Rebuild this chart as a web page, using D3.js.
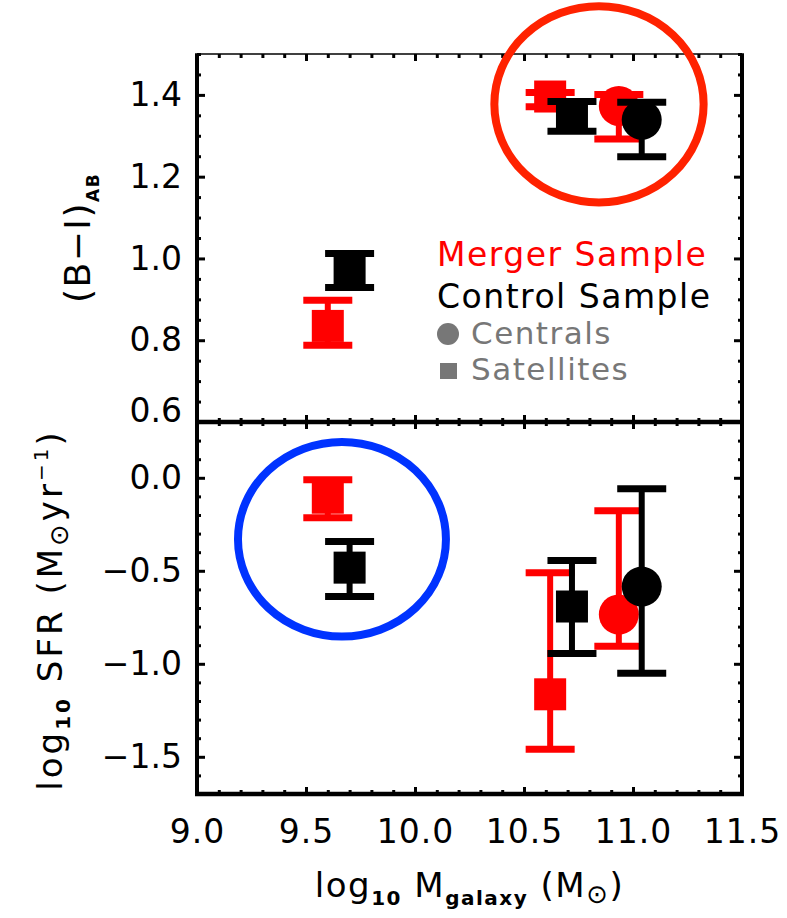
<!DOCTYPE html>
<html>
<head>
<meta charset="utf-8">
<script src="https://d3js.org/d3.v7.min.js"></script>
<style>
  body { margin: 0; background: #fff; }
  svg { display: block; font-family: "DejaVu Sans", sans-serif; }
</style>
</head>
<body>
<div id="chart"></div>
<script>
// axis ticks
const massTicks = [9.0, 9.5, 10.0, 10.5, 11.0, 11.5];
const colorTicks = [0.6, 0.8, 1.0, 1.2, 1.4];
const sfrTicks = [-1.5, -1.0, -0.5, 0.0];

// top panel: (B-I)_AB colour, m = log10 Mgalaxy, v = value, lo/hi = error bar ends
const mergerSatColor = [{ m: 9.60, v: 0.835, lo: 0.788, hi: 0.898 }, { m: 10.62, v: 1.396, lo: 1.371, hi: 1.406 }];
const controlSatColor = [{ m: 9.70, v: 0.970, lo: 0.929, hi: 1.012 }, { m: 10.72, v: 1.346, lo: 1.311, hi: 1.384 }];
const mergerCenColor = [{ m: 10.935, v: 1.373, lo: 1.292, hi: 1.401 }];
const controlCenColor = [{ m: 11.04, v: 1.339, lo: 1.249, hi: 1.382 }];

// bottom panel: log10 SFR
const mergerSatSfr = [{ m: 9.60, v: -0.107, lo: -0.215, hi: -0.011 }, { m: 10.62, v: -1.164, lo: -1.459, hi: -0.51 }];
const controlSatSfr = [{ m: 9.70, v: -0.483, lo: -0.638, hi: -0.343 }, { m: 10.72, v: -0.692, lo: -0.944, hi: -0.445 }];
const mergerCenSfr = [{ m: 10.935, v: -0.735, lo: -0.906, hi: -0.177 }];
const controlCenSfr = [{ m: 11.04, v: -0.585, lo: -1.051, hi: -0.059 }];

// highlight rings (centre and radii in data units)
const colorRing = { m: 10.844, v: 1.377, rm: 0.48, rv: 0.24 };
const sfrRing = { m: 9.665, v: -0.33, rm: 0.477, rv: 0.523 };

const width = 787, height = 918;
const pLeft = 197, pRight = 742, pTop = 54, pMid = 422, pBottom = 794;

const svg = d3.select("#chart")
    .append("svg")
    .attr("width", width)
    .attr("height", height);

const x = d3.scaleLinear().domain([9.0, 11.5]).range([pLeft, pRight]);
const yTop = d3.scaleLinear().domain([0.6, 1.5]).range([pMid, pTop]);
const yBot = d3.scaleLinear().domain([-1.7, 0.3]).range([pBottom, pMid]);

const fmt = d3.format(".1f");

function minorValues(domain, step, majors) {
    const out = [];
    const n = Math.round((domain[1] - domain[0]) / step);
    for (let i = 0; i <= n; i++) {
        const v = +(domain[0] + i * step).toFixed(3);
        if (!majors.some(t => Math.abs(t - v) < 1e-6)) out.push(v);
    }
    return out;
}

function cleanAxis(g) {
    g.attr("font-size", null).attr("font-family", null);
    g.select(".domain").remove();
    g.selectAll(".tick line").attr("stroke", "#000").attr("stroke-width", 3);
    g.selectAll(".tick text").attr("fill", "#000").style("font-size", "33px");
}

function drawAxis(axis, tx, ty, withLabels) {
    const g = svg.append("g")
        .attr("transform", `translate(${tx},${ty})`)
        .call(axis);
    cleanAxis(g);
    if (!withLabels) g.selectAll(".tick text").remove();
    return g;
}

// y axes for one panel
function yAxes(y, majors, step) {
    const minors = minorValues(y.domain(), step, majors);
    const lab = drawAxis(d3.axisLeft(y).tickValues(majors).tickSize(-8).tickPadding(15).tickFormat(fmt), pLeft, 0, true);
    drawAxis(d3.axisLeft(y).tickValues(minors).tickSize(-4).tickFormat(""), pLeft, 0, false);
    drawAxis(d3.axisRight(y).tickValues(majors).tickSize(-8).tickFormat(""), pRight, 0, false);
    drawAxis(d3.axisRight(y).tickValues(minors).tickSize(-4).tickFormat(""), pRight, 0, false);
    return lab;
}

// x axes along a horizontal edge; dir = +1 ticks point down, -1 up
function xAxes(yPos, dir, labels) {
    const minors = minorValues(x.domain(), 0.1, massTicks);
    const maj = dir > 0 ? d3.axisTop(x) : d3.axisBottom(x);
    const mnr = dir > 0 ? d3.axisTop(x) : d3.axisBottom(x);
    const g = drawAxis(maj.tickValues(massTicks).tickSize(-7).tickPadding(26).tickFormat(fmt), 0, yPos, labels);
    drawAxis(mnr.tickValues(minors).tickSize(-4).tickFormat(""), 0, yPos, false);
    return g;
}

const topLab = yAxes(yTop, colorTicks, 0.05);
topLab.selectAll(".tick text").filter(d => d === 0.6).attr("y", -11);
yAxes(yBot, sfrTicks, 0.1);
xAxes(pTop, 1, false);
xAxes(pMid, -1, false);
xAxes(pMid, 1, false);
const xLab = xAxes(pBottom, -1, true);
xLab.selectAll(".tick text").attr("dy", "0.71em").style("letter-spacing", "1px");

// frame
const frame = svg.append("g").attr("stroke", "#000");
frame.append("line").attr("x1", pLeft - 2).attr("x2", pRight + 2).attr("y1", pTop).attr("y2", pTop).attr("stroke-width", 1.5);
frame.append("line").attr("x1", pLeft - 2).attr("x2", pRight + 2).attr("y1", pMid).attr("y2", pMid).attr("stroke-width", 4.5);
frame.append("line").attr("x1", pLeft - 2).attr("x2", pRight + 2).attr("y1", pBottom).attr("y2", pBottom).attr("stroke-width", 4.5);
frame.append("line").attr("x1", pLeft).attr("x2", pLeft).attr("y1", pTop).attr("y2", pBottom + 2).attr("stroke-width", 4);
frame.append("line").attr("x1", pRight).attr("x2", pRight).attr("y1", pTop).attr("y2", pBottom + 2).attr("stroke-width", 4);

// error bar points
function drawPoints(data, y, color, shape) {
    const g = svg.append("g").attr("fill", color).attr("stroke", color);
    const capW = 24.5;
    data.forEach(d => {
        const cx = x(d.m);
        g.append("line")
            .attr("x1", cx).attr("x2", cx)
            .attr("y1", y(d.lo)).attr("y2", y(d.hi))
            .attr("stroke-width", 6);
        [d.lo, d.hi].forEach(e => {
            g.append("line")
                .attr("x1", cx - capW).attr("x2", cx + capW)
                .attr("y1", y(e)).attr("y2", y(e))
                .attr("stroke-width", 7);
        });
        if (shape === "circle") {
            g.append("circle").attr("cx", cx).attr("cy", y(d.v)).attr("r", 20).attr("stroke", "none");
        } else {
            g.append("rect").attr("x", cx - 16).attr("y", y(d.v) - 16)
                .attr("width", 32).attr("height", 32).attr("stroke", "none");
        }
    });
}

drawPoints(mergerSatColor, yTop, "#ff0000", "square");
drawPoints(mergerCenColor, yTop, "#ff0000", "circle");
drawPoints(controlSatColor, yTop, "#000000", "square");
drawPoints(controlCenColor, yTop, "#000000", "circle");

drawPoints(mergerSatSfr, yBot, "#ff0000", "square");
drawPoints(mergerCenSfr, yBot, "#ff0000", "circle");
drawPoints(controlSatSfr, yBot, "#000000", "square");
drawPoints(controlCenSfr, yBot, "#000000", "circle");

// rings
function ring(r, y, color) {
    svg.append("ellipse")
        .attr("cx", x(r.m)).attr("cy", y(r.v))
        .attr("rx", x(r.m + r.rm) - x(r.m))
        .attr("ry", Math.abs(y(r.v + r.rv) - y(r.v)))
        .attr("fill", "none")
        .attr("stroke", color)
        .attr("stroke-width", 8);
}
ring(colorRing, yTop, "#ff2200");
ring(sfrRing, yBot, "#0033ff");

// legend
const legend = svg.append("g").style("letter-spacing", "1.5px");
legend.append("text").attr("x", 437).attr("y", 266).attr("fill", "#ff0000")
    .style("font-size", "33px").text("Merger Sample");
legend.append("text").attr("x", 437).attr("y", 308).attr("fill", "#000")
    .style("font-size", "33px").text("Control Sample");
legend.append("circle").attr("cx", 448).attr("cy", 334).attr("r", 11).attr("fill", "#777");
legend.append("text").attr("x", 471).attr("y", 344).attr("fill", "#777")
    .style("font-size", "31px").text("Centrals");
legend.append("rect").attr("x", 440).attr("y", 363).attr("width", 17).attr("height", 16).attr("fill", "#777");
legend.append("text").attr("x", 471).attr("y", 380).attr("fill", "#777")
    .style("font-size", "31px").text("Satellites");

// axis titles
function sub(t, s, size, dy, weight) {
    t.append("tspan").attr("dy", dy).style("font-size", size).style("font-weight", weight || null).text(s);
}

const xt = svg.append("text")
    .attr("x", (pLeft + pRight) / 2).attr("y", 897)
    .attr("text-anchor", "middle")
    .style("font-size", "34px").style("letter-spacing", "1.5px");
xt.append("tspan").text("log");
sub(xt, "10", "20px", 8, "bold");
xt.append("tspan").attr("dy", -8).text(" M");
sub(xt, "galaxy", "20px", 8, "bold");
xt.append("tspan").attr("dy", -8).text(" (M");
sub(xt, "⊙", "26px", 6);
xt.append("tspan").attr("dy", -6).text(")");

const yt1 = svg.append("text")
    .attr("transform", "translate(90,238) rotate(-90)")
    .attr("text-anchor", "middle")
    .style("font-size", "36px").style("letter-spacing", "1.5px");
yt1.append("tspan").text("(B−I)");
sub(yt1, "AB", "17px", 9, "bold");

const yt2 = svg.append("text")
    .attr("transform", "translate(62,610) rotate(-90)")
    .attr("text-anchor", "middle")
    .style("font-size", "34px").style("letter-spacing", "3px");
yt2.append("tspan").text("log");
sub(yt2, "10", "20px", 8, "bold");
yt2.append("tspan").attr("dy", -8).text(" SFR (M");
sub(yt2, "⊙", "26px", 6);
yt2.append("tspan").attr("dy", -6).text("yr");
sub(yt2, "−1", "20px", -14);
yt2.append("tspan").attr("dy", 14).text(")");
</script>
</body>
</html>
